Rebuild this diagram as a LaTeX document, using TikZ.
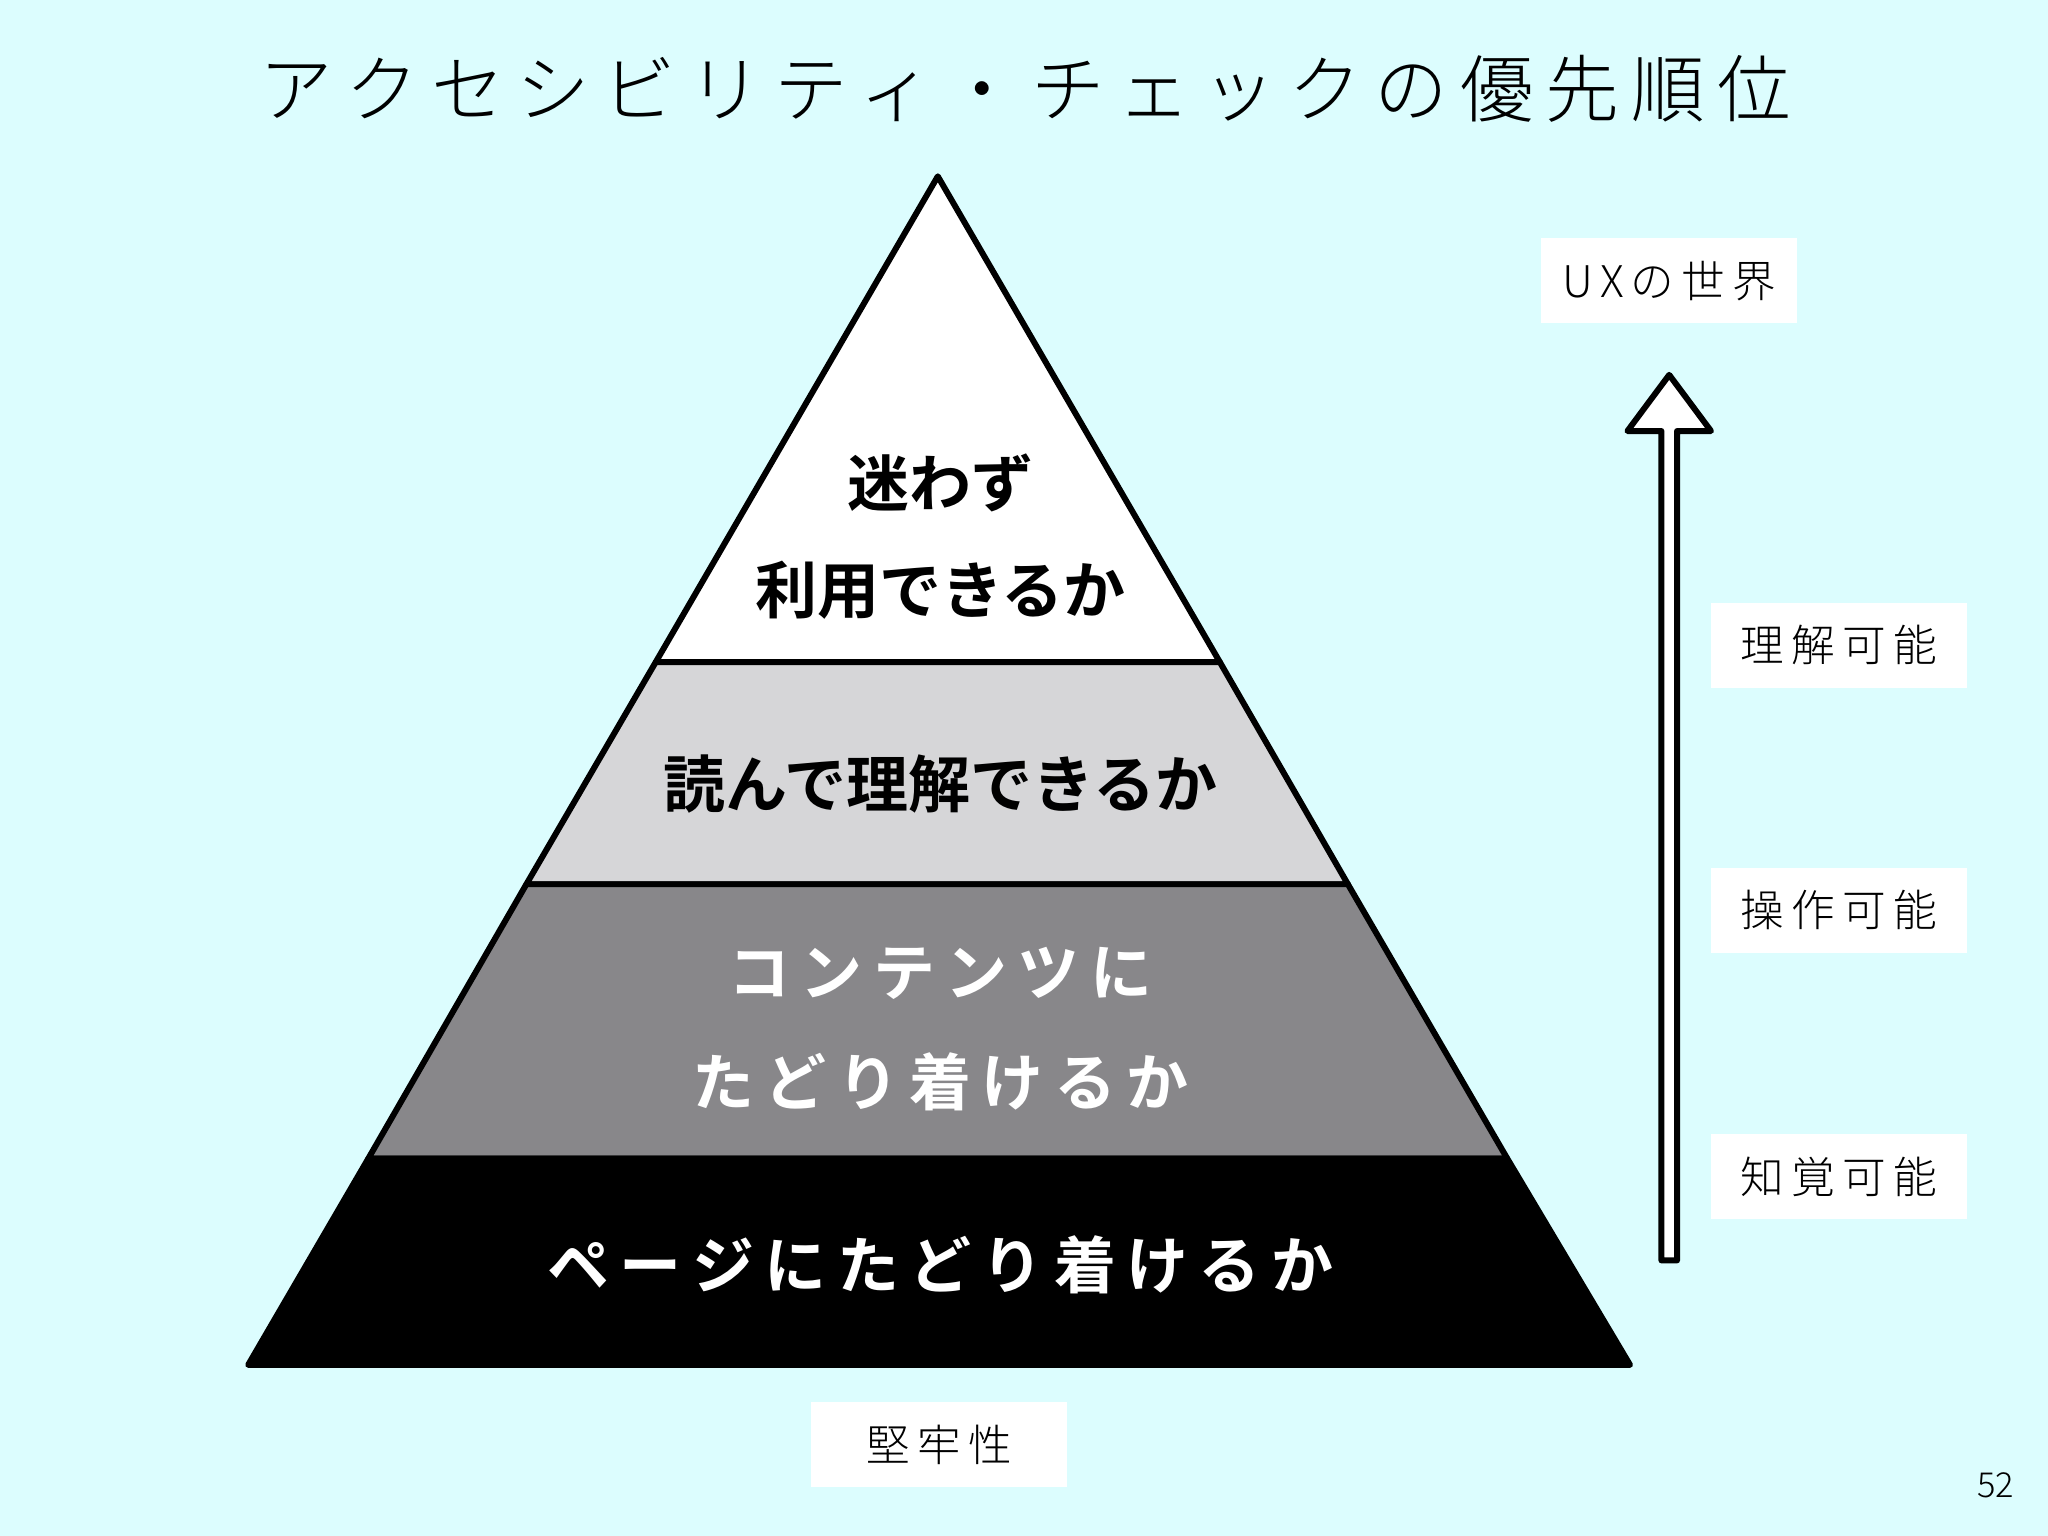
\documentclass[tikz,border=0pt]{standalone}
\usepackage{fontspec}
\newfontfamily\jp{Noto Sans CJK JP}
\newfontfamily\jpb{Noto Sans CJK JP Bold}
\newfontfamily\jpl{Noto Sans CJK JP Light}
\definecolor{bg}{HTML}{DCFDFE}
\definecolor{lgray}{HTML}{D6D6D8}
\definecolor{mgray}{HTML}{88878A}
\begin{document}
\begin{tikzpicture}[x=0.01cm,y=-0.01cm,
  layer/.style={draw=black,line width=1.3pt,line join=round},
  big/.style={font=\jpb\fontsize{13.5}{16}\selectfont},
  lab/.style={fill=white,minimum width=1.96cm,minimum height=0.65cm,inner sep=0pt,font=\jpl\fontsize{9.5}{11}\selectfont}]
\fill[bg] (0,0) rectangle (1568,1176);
\useasboundingbox (0,0) rectangle (1568,1176);
\node[font=\jpl\fontsize{16}{18}\selectfont] (title) at (785,68) {ア\,ク\,セ\,シ\,ビ\,リ\,テ\,ィ\,・\,チ\,ェ\,ッ\,ク\,の\,優\,先\,順\,位};
\coordinate (A) at (718,135);
\coordinate (L1) at (502,507); \coordinate (R1) at (934,507);
\coordinate (L2) at (403,677); \coordinate (R2) at (1032,677);
\coordinate (L3) at (282,887); \coordinate (R3) at (1154,887);
\coordinate (L4) at (190,1045); \coordinate (R4) at (1248,1045);
\filldraw[layer,fill=white] (A) -- (R1) -- (L1) -- cycle;
\filldraw[layer,fill=lgray] (L1) -- (R1) -- (R2) -- (L2) -- cycle;
\filldraw[layer,fill=mgray] (L2) -- (R2) -- (R3) -- (L3) -- cycle;
\filldraw[layer,fill=black] (L3) -- (R3) -- (R4) -- (L4) -- cycle;
\node[big] (t1) at (720,370) {迷わず};
\node[big] (t2) at (720,452) {利用できるか};
\node[big] (t3) at (720,600) {読んで理解できるか};
\node[big,text=white] (t4) at (720,745) {コ\,ン\,テ\,ン\,ツ\,に};
\node[big,text=white] (t5) at (720,828) {た\,ど\,り\,着\,け\,る\,か};
\node[big,text=white] (t6) at (720,968) {ペ\,ー\,ジ\,に\,た\,ど\,り\,着\,け\,る\,か};
\draw[line width=1.3pt,fill=white,line join=round] (1272,965) -- (1272,330) -- (1246,330) -- (1278,287) -- (1310,330) -- (1284,330) -- (1284,965) -- cycle;
\node[lab] (ux) at (1278,215) {U\,X\,の\,世\,界};
\node[lab] (b1) at (1408,494) {理\,解\,可\,能};
\node[lab] (b2) at (1408,697) {操\,作\,可\,能};
\node[lab] (b3) at (1408,901) {知\,覚\,可\,能};
\node[lab] (b4) at (719,1106) {堅\,牢\,性};
\node[font=\jpl\fontsize{7.5}{9}\selectfont] (pg) at (1528,1137) {52};
\end{tikzpicture}
\end{document}
